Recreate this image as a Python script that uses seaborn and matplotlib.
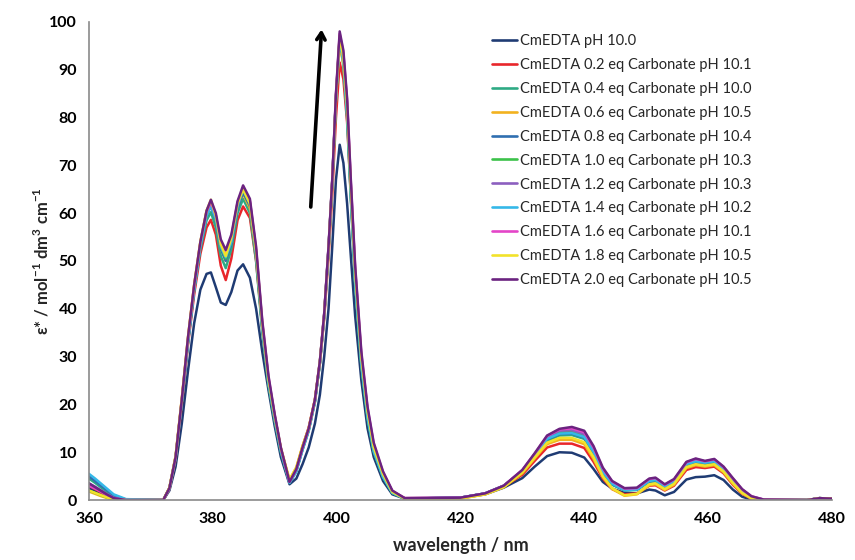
import pandas as pd
import seaborn as sns
import matplotlib
matplotlib.use("Agg")
import matplotlib.pyplot as plt

# wavelength grid (nm)
wl = [360, 361, 362, 363, 364, 366,
      372, 373, 374, 375, 376, 377, 378, 379,
      379.7, 380.5, 381.3, 382.1, 383, 384, 384.9,
      386, 387, 388, 389, 390, 391,
      392.4, 393.5, 394.5, 395.5, 396.5, 397.3,
      398, 398.7, 399.3, 399.9, 400.5, 401.1, 401.7, 402.3, 403,
      404, 405, 406, 407.5, 409, 411,
      420, 424, 427, 430, 432, 434, 436, 438, 440,
      441.5, 443, 444.5, 446.5, 448.5, 450.5, 451.5, 453, 454.5,
      456.5, 458, 459.5, 461, 462.5, 464, 465.5, 467, 469,
      476, 478, 480]

eps_ph100 = [2.5, 2.0, 1.3, 0.7, 0.3, 0.0,
             0.0, 2.0, 7.0, 16.0, 27.0, 37.0, 44.0, 47.3,
             47.6, 44.5, 41.3, 40.8, 43.5, 48.0, 49.3,
             46.5, 40.0, 31.0, 23.0, 15.5, 9.0,
             3.3, 4.5, 7.5, 11.0, 16.0, 22.0,
             30.0, 40.0, 53.0, 67.0, 74.3, 70.5, 62.0, 51.0, 38.5,
             25.0, 15.0, 9.0, 4.0, 1.2, 0.3,
             0.4, 1.2, 2.6, 4.6, 7.0, 9.2, 10.0, 9.9, 8.9,
             6.5, 3.8, 2.4, 1.5, 1.4, 2.2, 2.0, 1.0, 1.7,
             4.3, 4.8, 4.9, 5.2, 4.2, 2.2, 0.7, 0.1, 0.0,
             0.0, 0.4, 0.3]

eps_02 = [3.0, 2.3, 1.6, 0.9, 0.3, 0.0,
          0.0, 2.3, 8.5, 20.0, 32.5, 43.0, 51.5, 57.0,
          58.6, 55.5, 49.0, 46.0, 50.5, 58.5, 61.4,
          59.0, 50.0, 36.0, 25.0, 17.5, 10.8,
          3.7, 6.6, 11.2, 15.2, 21.0, 28.5,
          38.0, 51.0, 64.0, 80.0, 91.5, 88.0, 79.0, 63.5, 46.5,
          29.5, 18.5, 11.0, 5.5, 1.8, 0.4,
          0.4, 1.3, 2.8, 5.3, 8.2, 11.0, 11.8, 11.8, 10.9,
          8.0, 4.5, 2.3, 1.2, 1.4, 3.0, 3.1, 2.0, 3.0,
          6.3, 6.9, 6.7, 7.0, 5.6, 3.2, 1.3, 0.3, 0.0,
          0.0, 0.4, 0.3]

eps_04 = [4.5, 3.6, 2.6, 1.6, 0.7, 0.0,
          0.0, 2.4, 8.8, 20.5, 33.0, 44.0, 52.5, 58.5,
          60.2, 57.0, 51.0, 48.5, 52.5, 60.0, 63.0,
          60.0, 50.0, 35.0, 24.0, 16.5, 10.0,
          3.6, 6.0, 10.5, 14.5, 20.5, 28.5,
          38.5, 52.5, 66.5, 84.0, 96.0, 91.0, 80.0, 63.0, 45.0,
          28.0, 17.0, 10.0, 4.8, 1.5, 0.3,
          0.5, 1.4, 2.9, 5.9, 9.1, 12.4, 13.5, 13.6, 12.8,
          9.7, 5.6, 3.2, 2.0, 2.1, 3.8, 3.9, 2.7, 3.7,
          7.2, 7.8, 7.5, 7.8, 6.2, 3.8, 1.7, 0.5, 0.0,
          0.0, 0.4, 0.3]

eps_06 = [1.8, 1.3, 0.8, 0.4, 0.1, 0.0,
          0.0, 2.6, 9.2, 21.2, 34.0, 45.0, 54.0, 60.5,
          62.5, 59.0, 52.5, 50.0, 54.0, 61.5, 64.0,
          61.0, 51.0, 36.0, 24.5, 17.0, 10.5,
          4.2, 6.8, 11.3, 15.0, 21.0, 28.8,
          38.5, 52.0, 66.0, 83.5, 95.5, 91.0, 81.0, 64.5, 46.5,
          29.0, 18.0, 10.8, 5.2, 1.6, 0.3,
          0.3, 1.2, 2.7, 5.6, 8.7, 11.7, 12.6, 12.6, 11.7,
          8.6, 4.8, 2.3, 0.9, 1.2, 3.1, 3.3, 2.1, 3.2,
          6.7, 7.3, 7.0, 7.3, 5.8, 3.4, 1.4, 0.3, 0.0,
          0.0, 0.4, 0.3]

eps_08 = [5.0, 4.0, 3.0, 2.0, 1.0, 0.1,
          0.0, 2.4, 8.8, 20.5, 33.0, 44.0, 53.0, 59.5,
          61.5, 58.5, 52.5, 50.0, 53.5, 61.0, 64.3,
          61.5, 51.0, 36.0, 24.5, 17.0, 10.3,
          3.7, 6.2, 10.7, 14.7, 20.7, 28.7,
          38.7, 52.5, 66.5, 84.0, 96.5, 92.0, 81.5, 64.5, 46.5,
          29.0, 17.8, 10.5, 5.0, 1.6, 0.3,
          0.5, 1.4, 3.0, 6.0, 9.3, 12.7, 13.8, 13.9, 13.1,
          10.0, 5.8, 3.3, 2.1, 2.2, 3.9, 4.1, 2.8, 3.8,
          7.4, 8.0, 7.7, 8.0, 6.4, 4.0, 1.8, 0.5, 0.0,
          0.0, 0.4, 0.3]

eps_10 = [2.0, 1.5, 1.0, 0.5, 0.2, 0.0,
          0.0, 2.5, 8.9, 20.7, 33.3, 44.3, 53.3, 59.8,
          61.8, 59.0, 53.0, 50.5, 54.0, 61.5, 64.8,
          62.0, 51.5, 36.2, 24.7, 17.2, 10.5,
          3.7, 6.2, 10.7, 14.7, 20.7, 28.8,
          38.8, 52.7, 66.7, 84.3, 96.8, 92.0, 81.0, 64.0, 46.0,
          28.5, 17.5, 10.3, 4.9, 1.5, 0.3,
          0.5, 1.4, 3.0, 6.1, 9.5, 13.0, 14.2, 14.3, 13.5,
          10.4, 6.1, 3.5, 2.2, 2.3, 4.1, 4.3, 3.0, 4.0,
          7.6, 8.2, 7.9, 8.2, 6.6, 4.2, 1.9, 0.6, 0.0,
          0.0, 0.4, 0.3]

eps_12 = [3.5, 2.8, 2.0, 1.2, 0.5, 0.0,
          0.0, 2.5, 9.0, 20.8, 33.5, 44.5, 53.5, 60.0,
          62.0, 59.2, 53.3, 51.0, 54.5, 61.8, 65.0,
          62.3, 52.0, 36.8, 25.3, 17.6, 10.7,
          3.8, 6.3, 10.8, 14.8, 20.8, 28.9,
          38.9, 52.8, 66.8, 84.6, 97.0, 93.0, 83.0, 66.0, 48.0,
          30.0, 18.8, 11.3, 5.6, 1.8, 0.4,
          0.5, 1.4, 3.0, 6.2, 9.6, 13.2, 14.5, 14.6, 13.8,
          10.7, 6.3, 3.7, 2.3, 2.4, 4.2, 4.4, 3.1, 4.1,
          7.7, 8.4, 8.0, 8.3, 6.8, 4.4, 2.1, 0.7, 0.1,
          0.0, 0.4, 0.3]

eps_14 = [5.5, 4.5, 3.4, 2.3, 1.2, 0.2,
          0.0, 2.4, 8.8, 20.5, 33.0, 44.0, 53.0, 59.5,
          61.5, 58.8, 53.0, 50.8, 54.0, 61.5, 65.0,
          62.0, 51.5, 36.0, 24.5, 17.0, 10.3,
          3.6, 6.0, 10.5, 14.5, 20.5, 28.6,
          38.6, 52.5, 66.5, 84.0, 96.5, 91.5, 80.5, 63.5, 45.5,
          28.3, 17.3, 10.2, 4.8, 1.5, 0.3,
          0.5, 1.4, 3.0, 6.0, 9.3, 12.8, 13.9, 14.0, 13.2,
          10.1, 5.9, 3.4, 2.1, 2.2, 4.0, 4.2, 2.9, 3.9,
          7.5, 8.1, 7.8, 8.1, 6.5, 4.1, 1.8, 0.5, 0.0,
          0.0, 0.4, 0.3]

eps_16 = [3.0, 2.4, 1.7, 1.0, 0.4, 0.0,
          0.0, 2.5, 9.0, 21.0, 33.8, 44.8, 53.8, 60.3,
          62.3, 59.5, 53.8, 51.5, 55.0, 62.2, 65.3,
          62.6, 52.5, 37.2, 25.7, 17.8, 10.8,
          3.8, 6.4, 10.9, 14.9, 20.9, 29.0,
          39.0, 53.0, 67.0, 84.8, 97.5, 93.5, 83.5, 66.5, 48.5,
          30.5, 19.2, 11.7, 5.8, 1.9, 0.4,
          0.5, 1.4, 3.0, 6.3, 9.7, 13.4, 14.8, 15.0, 14.2,
          11.0, 6.6, 3.9, 2.4, 2.5, 4.4, 4.6, 3.2, 4.3,
          7.9, 8.6, 8.1, 8.5, 6.9, 4.5, 2.2, 0.8, 0.1,
          0.0, 0.4, 0.3]

eps_18 = [2.0, 1.5, 1.0, 0.5, 0.2, 0.0,
          0.0, 2.6, 9.2, 21.2, 34.0, 45.0, 54.0, 60.5,
          62.8, 59.5, 53.5, 51.0, 54.8, 62.0, 65.0,
          62.0, 52.0, 36.8, 25.2, 17.6, 10.9,
          4.3, 6.9, 11.3, 15.0, 21.0, 28.9,
          38.8, 52.6, 66.6, 84.3, 97.0, 92.5, 82.5, 65.5, 47.5,
          29.8, 18.5, 11.0, 5.4, 1.7, 0.3,
          0.3, 1.2, 2.7, 5.8, 8.9, 12.0, 13.0, 13.0, 12.1,
          9.0, 5.0, 2.5, 1.0, 1.3, 3.3, 3.5, 2.3, 3.4,
          6.9, 7.5, 7.2, 7.5, 6.0, 3.6, 1.5, 0.4, 0.0,
          0.0, 0.4, 0.3]

eps_20 = [3.5, 2.7, 1.9, 1.1, 0.4, 0.0,
          0.0, 2.5, 9.0, 21.0, 34.0, 45.0, 54.0, 60.5,
          62.8, 60.0, 54.5, 52.3, 55.5, 62.5, 65.8,
          63.0, 53.0, 37.5, 26.0, 18.0, 11.0,
          3.8, 6.5, 11.0, 15.0, 21.0, 29.0,
          39.0, 53.0, 67.0, 85.0, 98.0, 94.0, 84.0, 67.0, 49.0,
          31.0, 19.5, 12.0, 6.0, 2.0, 0.4,
          0.5, 1.4, 3.0, 6.3, 9.8, 13.5, 14.9, 15.3, 14.5,
          11.3, 6.8, 4.0, 2.5, 2.6, 4.5, 4.7, 3.3, 4.4,
          8.0, 8.7, 8.2, 8.6, 7.0, 4.6, 2.3, 0.8, 0.1,
          0.0, 0.4, 0.3]

labels = ["CmEDTA pH 10.0",
          "CmEDTA 0.2 eq Carbonate pH 10.1",
          "CmEDTA 0.4 eq Carbonate pH 10.0",
          "CmEDTA 0.6 eq Carbonate pH 10.5",
          "CmEDTA 0.8 eq Carbonate pH 10.4",
          "CmEDTA 1.0 eq Carbonate pH 10.3",
          "CmEDTA 1.2 eq Carbonate pH 10.3",
          "CmEDTA 1.4 eq Carbonate pH 10.2",
          "CmEDTA 1.6 eq Carbonate pH 10.1",
          "CmEDTA 1.8 eq Carbonate pH 10.5",
          "CmEDTA 2.0 eq Carbonate pH 10.5"]
series = [eps_ph100, eps_02, eps_04, eps_06, eps_08, eps_10,
          eps_12, eps_14, eps_16, eps_18, eps_20]
colors = ["#1f3b73", "#e8262b", "#2eaa84", "#f2b21f", "#2f6fb0", "#3cc24a",
          "#8c5fbf", "#35b8e8", "#e445c8", "#f2e22a", "#6b2380"]

# long table for seaborn
frames = []
for lab, vals in zip(labels, series):
    frames.append(pd.DataFrame({"wavelength": wl, "eps": vals, "sample": lab}))
df = pd.concat(frames, ignore_index=True)

sns.set_style("white")
plt.rcParams["font.family"] = ["Lato", "DejaVu Sans"]

fig = plt.figure(figsize=(8.55, 5.6), dpi=100)
ax = fig.add_axes([0.104, 0.107, 0.869, 0.854])

sns.lineplot(data=df, x="wavelength", y="eps", hue="sample", hue_order=labels,
             palette=colors, estimator=None, sort=False, linewidth=1.8, ax=ax)

ax.set_xlim(360, 480)
ax.set_ylim(0, 100)
ax.set_xticks(range(360, 481, 10))
ax.set_xticklabels([str(v) if v % 20 == 0 else "" for v in range(360, 481, 10)])
ax.set_yticks(range(0, 101, 10))
for s in ["top", "right"]:
    ax.spines[s].set_visible(False)
for s in ["left", "bottom"]:
    ax.spines[s].set_color("#8a8a8a")
    ax.spines[s].set_linewidth(1.2)
ax.tick_params(axis="both", direction="out", length=5, width=1.2, color="#8a8a8a",
               labelsize=11.5, labelcolor="black")
for t in ax.get_xticklabels() + ax.get_yticklabels():
    t.set_fontweight("bold")

ax.set_xlabel("wavelength / nm", fontsize=13, fontweight="bold", labelpad=8)
ax.set_ylabel(r"ε* / mol$^{\mathregular{-1}}$ dm$^{\mathregular{3}}$ cm$^{\mathregular{-1}}$",
              fontsize=12, fontweight="bold")
ax.yaxis.set_label_coords(-0.05, 0.5)

ax.annotate("", xy=(397.6, 99.0), xytext=(395.8, 60.7),
            arrowprops=dict(arrowstyle="->,head_length=0.5,head_width=0.3",
                            color="black", lw=2.6))

leg = ax.legend(loc="upper left", bbox_to_anchor=(492 / 855, 1 - 34 / 560),
                bbox_transform=fig.transFigure, frameon=False, fontsize=10.5,
                handlelength=1.7, handletextpad=0.2, labelspacing=0.68,
                borderpad=0, borderaxespad=0)
for line in leg.get_lines():
    line.set_linewidth(1.9)

fig.savefig("out.png", dpi=100)
